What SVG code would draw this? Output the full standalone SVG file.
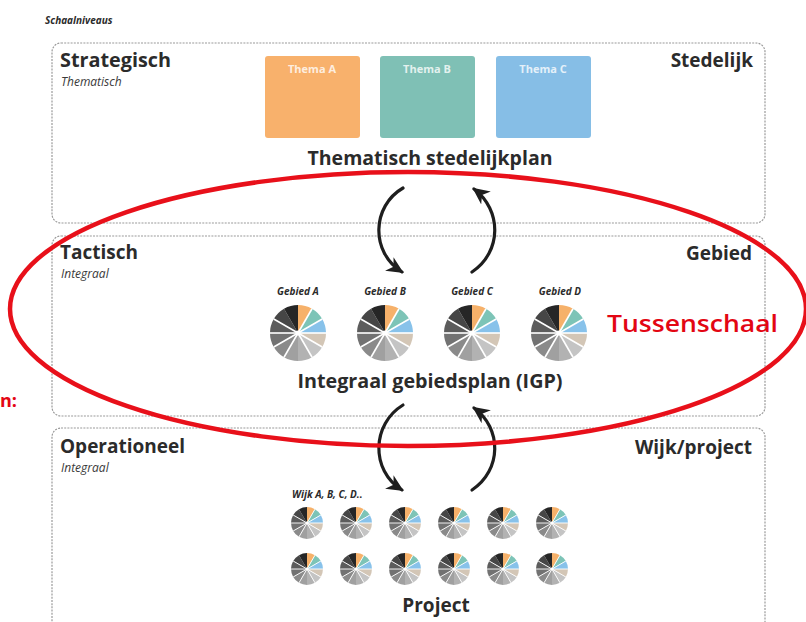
<svg xmlns="http://www.w3.org/2000/svg" xmlns:xlink="http://www.w3.org/1999/xlink" width="806" height="622" viewBox="0 0 806 622">
<style>
text{font-family:"Open Sans","Noto Sans","Liberation Sans",sans-serif;fill:#2b2b2b}
.h{font-weight:700;font-size:19px}
.sub{font-style:italic;font-size:12px;fill:#3a3a3a}
.lbl{font-weight:700;font-style:italic;font-size:10px}
.th{font-weight:700;font-size:11px;fill:#ffffff;fill-opacity:0.8;text-anchor:middle}
.box{fill:#ffffff;stroke:#9a9a9a;stroke-width:1.2;stroke-dasharray:2 1.2}
.arr{fill:none;stroke:#1e1e1e;stroke-width:3.2;stroke-linecap:round;marker-end:url(#ah)}
.sep{stroke:#ffffff;stroke-width:1.6}
</style>
<defs>
<marker id="ah" markerUnits="userSpaceOnUse" markerWidth="18" markerHeight="16" viewBox="0 0 18 16" refX="15" refY="8" orient="auto">
<path d="M0,0 L17,8 L0,16 L5,8 Z" fill="#1e1e1e"/>
</marker>
<g id="pie">
<path d="M0,0 L0,-28 A28,28 0 0 1 14,-24.249 Z" fill="#F6B16A"/>
<path d="M0,0 L14,-24.249 A28,28 0 0 1 24.249,-14 Z" fill="#7DC4B7"/>
<path d="M0,0 L24.249,-14 A28,28 0 0 1 28,0 Z" fill="#88C2EA"/>
<path d="M0,0 L28,0 A28,28 0 0 1 24.249,14 Z" fill="#D3C6B6"/>
<path d="M0,0 L24.249,14 A28,28 0 0 1 14,24.249 Z" fill="#C4C4C4"/>
<path d="M0,0 L14,24.249 A28,28 0 0 1 0,28 Z" fill="#B2B2B2"/>
<path d="M0,0 L0,28 A28,28 0 0 1 -14,24.249 Z" fill="#A0A0A0"/>
<path d="M0,0 L-14,24.249 A28,28 0 0 1 -24.249,14 Z" fill="#8A8A8A"/>
<path d="M0,0 L-24.249,14 A28,28 0 0 1 -28,0 Z" fill="#727272"/>
<path d="M0,0 L-28,0 A28,28 0 0 1 -24.249,-14 Z" fill="#5C5C5C"/>
<path d="M0,0 L-24.249,-14 A28,28 0 0 1 -14,-24.249 Z" fill="#464646"/>
<path d="M0,0 L-14,-24.249 A28,28 0 0 1 0,-28 Z" fill="#262626"/>
<g class="sep">
<line x1="0" y1="0" x2="14" y2="-24.249"/>
<line x1="0" y1="0" x2="24.249" y2="-14"/>
<line x1="0" y1="0" x2="28" y2="0"/>
<line x1="0" y1="0" x2="24.249" y2="14"/>
<line x1="0" y1="0" x2="14" y2="24.249"/>
<line x1="0" y1="0" x2="-14" y2="24.249"/>
<line x1="0" y1="0" x2="-24.249" y2="14"/>
<line x1="0" y1="0" x2="-28" y2="0"/>
<line x1="0" y1="0" x2="-24.249" y2="-14"/>
</g>
<circle r="2.5" fill="#ffffff"/>
</g>
</defs>
<rect width="806" height="622" fill="#ffffff"/>
<text class="lbl" x="45" y="24">Schaalniveaus</text>

<g id="strategisch">
<rect class="box" x="52" y="43" width="713" height="180" rx="9"/>
<text class="h" x="60" y="67" textLength="111" lengthAdjust="spacingAndGlyphs">Strategisch</text>
<text class="sub" x="61" y="86">Thematisch</text>
<text class="h" x="753" y="67" text-anchor="end">Stedelijk</text>
</g>
<g id="thema-a">
<rect x="265" y="56" width="95" height="82" rx="3" fill="#F8B16C"/>
<text class="th" x="312" y="73">Thema A</text>
</g>
<g id="thema-b">
<rect x="380" y="56" width="95" height="82" rx="3" fill="#7FC0B5"/>
<text class="th" x="427" y="73">Thema B</text>
</g>
<g id="thema-c">
<rect x="496" y="56" width="95" height="82" rx="3" fill="#86BEE6"/>
<text class="th" x="543" y="73">Thema C</text>
</g>
<g id="thematisch-stedelijkplan">
<text class="h" x="430" y="165" text-anchor="middle" textLength="245" lengthAdjust="spacingAndGlyphs">Thematisch stedelijkplan</text>
</g>

<g id="tactisch">
<rect class="box" x="52" y="236" width="713" height="180" rx="9"/>
<text class="h" x="60" y="259">Tactisch</text>
<text class="sub" x="61" y="278">Integraal</text>
<text class="h" x="752" y="260" text-anchor="end">Gebied</text>
</g>
<g id="gebied-a">
<text class="lbl" x="298" y="295" text-anchor="middle">Gebied A</text>
<use xlink:href="#pie" transform="translate(298,333)"/>
</g>
<g id="gebied-b">
<text class="lbl" x="385" y="295" text-anchor="middle">Gebied B</text>
<use xlink:href="#pie" transform="translate(385,333)"/>
</g>
<g id="gebied-c">
<text class="lbl" x="472" y="295" text-anchor="middle">Gebied C</text>
<use xlink:href="#pie" transform="translate(472,333)"/>
</g>
<g id="gebied-d">
<text class="lbl" x="560" y="295" text-anchor="middle">Gebied D</text>
<use xlink:href="#pie" transform="translate(559,333)"/>
</g>
<g id="igp">
<text class="h" x="430" y="388" text-anchor="middle" textLength="265" lengthAdjust="spacingAndGlyphs">Integraal gebiedsplan (IGP)</text>
</g>

<g id="operationeel">
<rect class="box" x="52" y="428" width="713" height="210" rx="9"/>
<text class="h" x="60" y="453">Operationeel</text>
<text class="sub" x="61" y="472">Integraal</text>
<text class="h" x="752" y="454" text-anchor="end">Wijk/project</text>
</g>
<g id="wijken">
<text class="lbl" x="292" y="498">Wijk A, B, C, D..</text>
<use xlink:href="#pie" transform="translate(307,523) scale(0.57)"/>
<use xlink:href="#pie" transform="translate(356,523) scale(0.57)"/>
<use xlink:href="#pie" transform="translate(405,523) scale(0.57)"/>
<use xlink:href="#pie" transform="translate(454,523) scale(0.57)"/>
<use xlink:href="#pie" transform="translate(503,523) scale(0.57)"/>
<use xlink:href="#pie" transform="translate(552,523) scale(0.57)"/>
<use xlink:href="#pie" transform="translate(307,569) scale(0.57)"/>
<use xlink:href="#pie" transform="translate(356,569) scale(0.57)"/>
<use xlink:href="#pie" transform="translate(405,569) scale(0.57)"/>
<use xlink:href="#pie" transform="translate(454,569) scale(0.57)"/>
<use xlink:href="#pie" transform="translate(503,569) scale(0.57)"/>
<use xlink:href="#pie" transform="translate(552,569) scale(0.57)"/>
</g>
<g id="project">
<text class="h" x="436" y="612" text-anchor="middle">Project</text>
</g>

<g id="connectors">
<path class="arr" d="M403,188 C372,206 370,252 402,272"/>
<path class="arr" d="M472,272 C502,252 502,210 474,189"/>
<path class="arr" d="M403,405 C372,424 370,470 402,490"/>
<path class="arr" d="M472,490 C502,470 502,428 474,408"/>
</g>

<g id="tussenschaal">
<ellipse cx="408" cy="309" rx="398" ry="137" fill="none" stroke="#E8101A" stroke-width="4.5"/>
<text x="607" y="332" font-size="24" font-weight="600" style="fill:#E30613" textLength="171" lengthAdjust="spacingAndGlyphs">Tussenschaal</text>
<text x="0" y="407" font-size="18" font-weight="700" style="fill:#E30613">n:</text>
</g>
</svg>
